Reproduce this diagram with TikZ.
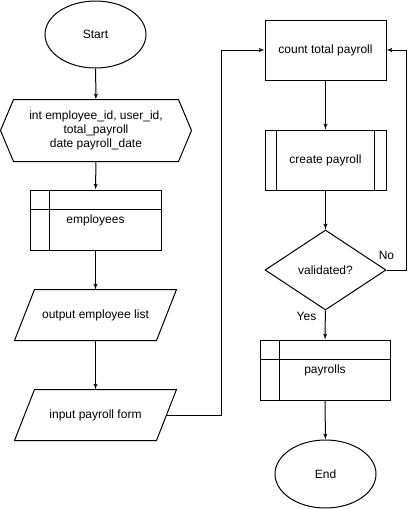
\documentclass[tikz,border=0pt]{standalone}
\usepackage{fontspec}
\setmainfont{Liberation Sans}
\usepackage{tikz}
\usetikzlibrary{shapes,arrows}
\tikzstyle{block} = [rectangle, draw, text centered, minimum width=121pt, minimum height=60pt, inner sep=0pt]
\tikzstyle{frame} = [rectangle, text centered, align=center, inner sep=0pt]
\tikzstyle{term} = [ellipse, draw, minimum width=101pt, minimum height=67pt, inner sep=0pt]
\tikzstyle{decision} = [diamond, draw, minimum width=121pt, minimum height=80pt, inner sep=0pt]
\tikzstyle{line} = [draw, -latex']

\begin{document}
\begin{tikzpicture}[x=1pt,y=-1pt,line width=1pt,font=\fontsize{12}{14}\selectfont]
\useasboundingbox (0,0) rectangle (414,509);
\node [term] (p1) at (95.5,34.5) {Start};
\node [frame, minimum width=190pt, minimum height=61pt] (p2) at (96,130.5) {int employee\_id, user\_id,\\total\_payroll\\date payroll\_date};
\draw (p2.west) -- ([xshift=13pt]p2.north west) -- ([xshift=-13pt]p2.north east) -- (p2.east)
  -- ([xshift=-13pt]p2.south east) -- ([xshift=13pt]p2.south west) -- cycle;
\path [line] (p1) -- (p2);

\node [block, minimum width=131pt] (p3) at (95.5,220) {employees};
\draw ([xshift=20pt]p3.north west) -- ([xshift=20pt]p3.south west);
\draw ([yshift=-20pt]p3.north west) -- ([yshift=-20pt]p3.north east);
\path [line] (p2) -- (p3);

\node [frame, minimum width=141pt, minimum height=50pt] (p4) at (95.5,315) {output employee list};
\draw ([xshift=10pt]p4.north west) -- ([xshift=10pt]p4.north east) -- ([xshift=-10pt]p4.south east) -- ([xshift=-10pt]p4.south west) -- cycle;
\path [line] (p3) -- (p4);

\node [frame, minimum width=141pt, minimum height=50pt] (p5) at (95.5,415) {input payroll form};
\draw ([xshift=10pt]p5.north west) -- ([xshift=10pt]p5.north east) -- ([xshift=-10pt]p5.south east) -- ([xshift=-10pt]p5.south west) -- cycle;
\path [line] (p4) -- (p5);

\node [block] (p6) at (325.5,50) {count total payroll};
\path [line] (p5.east) -- ++(54.5,0) |- (p6.west);

\node [block] (p7) at (325.5,160) {create payroll};
\draw ([xshift=12pt]p7.north west) -- ([xshift=12pt]p7.south west);
\draw ([xshift=-12pt]p7.north east) -- ([xshift=-12pt]p7.south east);
\path [line] (p6) -- (p7);

\node [decision] (p8) at (325.5,270) {validated?};
\path [line] (p7) -- (p8);
\path [line] (p8.east) -- ++(20,0) |- (p6.east);
\node at ([yshift=15pt]p8.east) {No};

\node [block, minimum width=130pt] (p9) at (325,370) {payrolls};
\draw ([xshift=20pt]p9.north west) -- ([xshift=20pt]p9.south west);
\draw ([yshift=-20pt]p9.north west) -- ([yshift=-20pt]p9.north east);
\path [line] (p8) -- (p9);
\node at ([xshift=-19pt,yshift=-6pt]p8.south) {Yes};

\node [term, minimum height=68pt] (p10) at (325.5,474) {End};
\path [line] (p9) -- (p10);
\end{tikzpicture}
\end{document}
